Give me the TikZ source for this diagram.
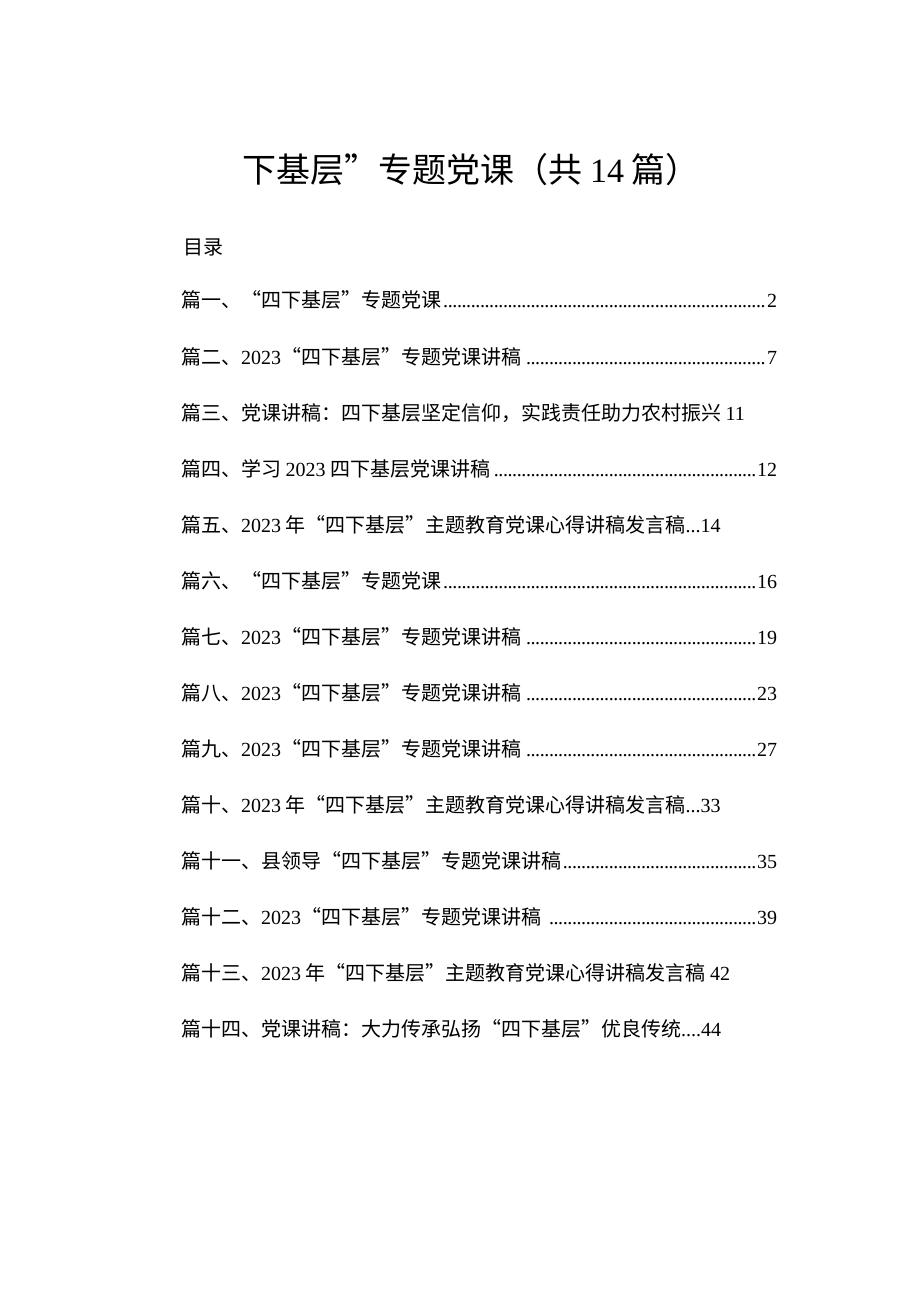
\documentclass[tikz,border=0pt]{standalone}
\usepackage{fontspec}
\setmainfont{Noto Sans CJK SC}
\newfontfamily\numf{Liberation Serif}
\newcommand{\D}[1]{{\numf #1}}
\newcommand{\lead}{\leaders\hbox to 4.6pt{\hss\numf .\hss}\hfill}
\begin{document}
\begin{tikzpicture}[x=1pt,y=-1pt,
  entry/.style={anchor=west,inner sep=0pt,font=\fontsize{20}{23}\selectfont}]
\useasboundingbox (0,0) rectangle (920,1301);
\fill[white] (0,0) rectangle (920,1301);
\node[anchor=center,inner sep=0pt,font=\fontsize{34}{39}\selectfont] (title) at (471,170) {下基层”专题党课（共 \D{14} 篇）};
\node[entry] (ml) at (183,247) {目录};
\newcommand{\E}[3]{\node[entry] (#1) at (181,#2) {\hbox to 596pt{#3}};}
\E{e1}{300}{篇一、“四下基层”专题党课\lead\D{2}}
\E{e2}{357}{篇二、\D{2023}“四下基层”专题党课讲稿 \lead\D{7}}
\node[entry] (e3) at (181,413) {篇三、党课讲稿：四下基层坚定信仰，实践责任助力农村振兴 \D{11}};
\E{e4}{469}{篇四、学习 \D{2023} 四下基层党课讲稿\lead\D{12}}
\node[entry] (e5) at (181,525) {篇五、\D{2023} 年“四下基层”主题教育党课心得讲稿发言稿\D{...14}};
\E{e6}{581}{篇六、“四下基层”专题党课\lead\D{16}}
\E{e7}{637}{篇七、\D{2023}“四下基层”专题党课讲稿 \lead\D{19}}
\E{e8}{693}{篇八、\D{2023}“四下基层”专题党课讲稿 \lead\D{23}}
\E{e9}{749}{篇九、\D{2023}“四下基层”专题党课讲稿 \lead\D{27}}
\node[entry] (e10) at (181,805) {篇十、\D{2023} 年“四下基层”主题教育党课心得讲稿发言稿\D{...33}};
\E{e11}{861}{篇十一、县领导“四下基层”专题党课讲稿\lead\D{35}}
\E{e12}{917}{篇十二、\D{2023}“四下基层”专题党课讲稿 \lead\D{39}}
\node[entry] (e13) at (181,973) {篇十三、\D{2023} 年“四下基层”主题教育党课心得讲稿发言稿 \D{42}};
\node[entry] (e14) at (181,1029) {篇十四、党课讲稿：大力传承弘扬“四下基层”优良传统\D{....44}};
\end{tikzpicture}
\end{document}
